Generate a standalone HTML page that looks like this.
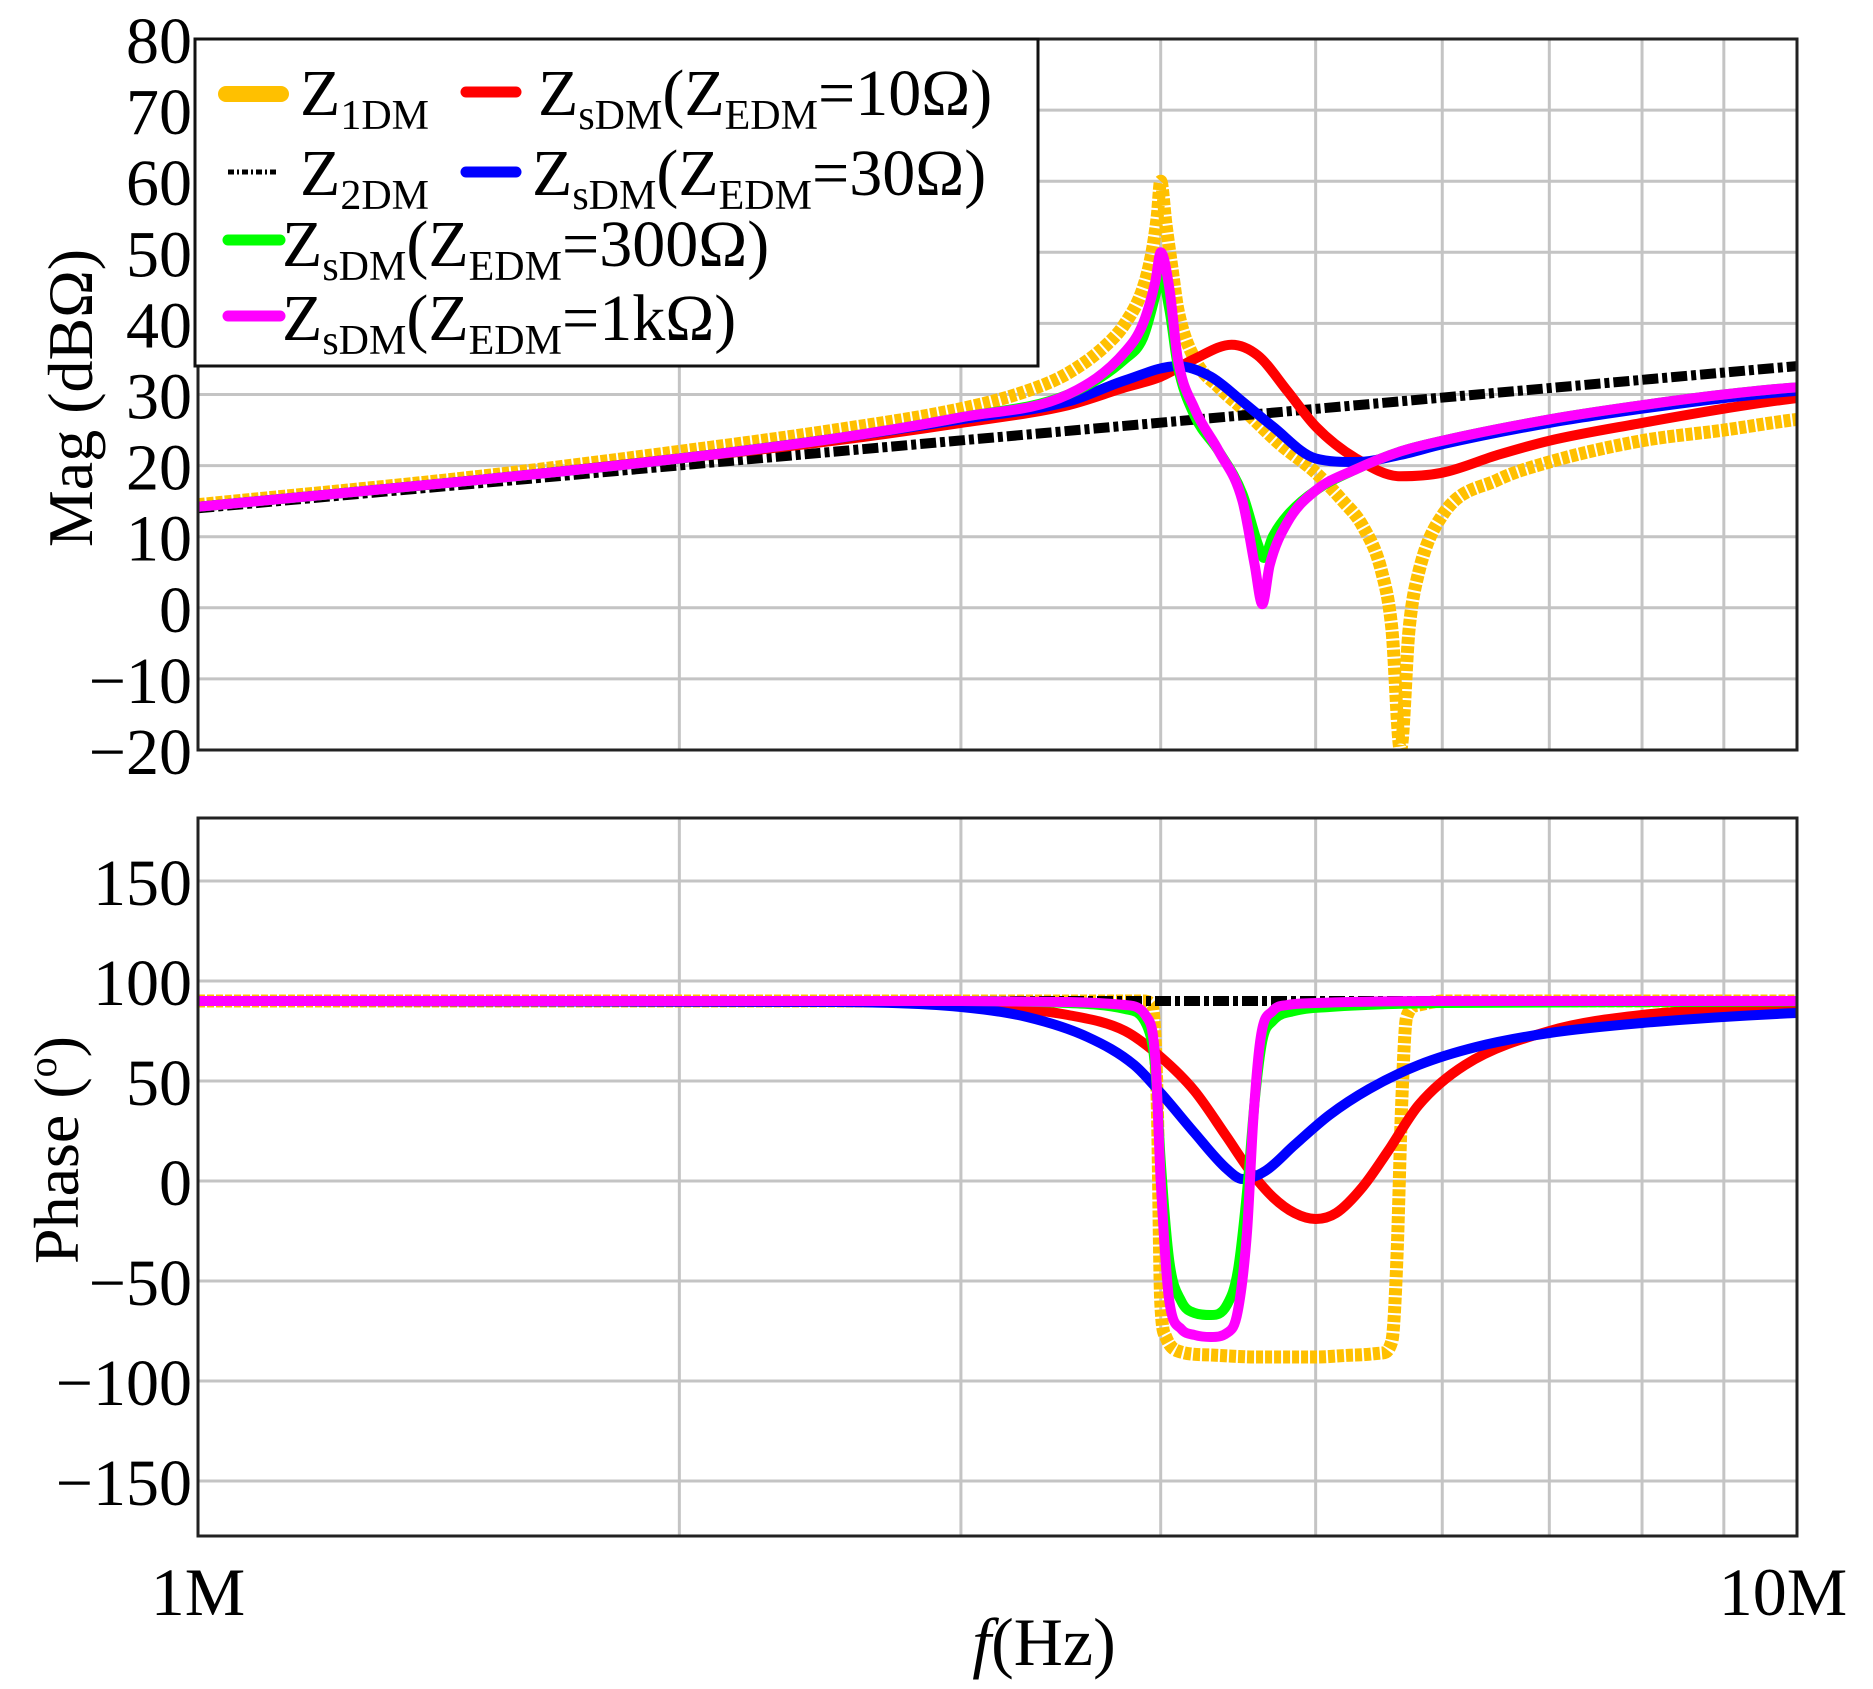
<!DOCTYPE html>
<html><head><meta charset="utf-8">
<style>
html,body{margin:0;padding:0;background:#fff;}
svg{display:block;font-family:"Liberation Serif",serif;}
</style></head>
<body>
<svg id="chart" width="1873" height="1689" viewBox="0 0 1873 1689" xmlns="http://www.w3.org/2000/svg">
<g id="grid"></g>
<g id="series"></g>
<g id="frames"></g>
<g id="ticks"></g>
<text transform="translate(92,398) rotate(-90)" text-anchor="middle" font-size="64">Mag (dBΩ)</text>
<text transform="translate(78,1150) rotate(-90)" text-anchor="middle" font-size="64">Phase (<tspan font-size="40" dy="-22">o</tspan><tspan dy="22">)</tspan></text>
<text x="1044" y="1665" text-anchor="middle" font-size="68"><tspan font-style="italic">f</tspan>(Hz)</text>
<g id="legend">
<rect x="195" y="39" width="843" height="327" fill="#fff" stroke="#111" stroke-width="3"/>
<g>
<line x1="226" y1="94" x2="281" y2="94" stroke="#FFC000" stroke-width="16" stroke-linecap="round"/>
<text x="300" y="115" font-size="66">Z<tspan font-size="42" dy="14">1DM</tspan></text></g>
<g>
<line x1="466" y1="92" x2="516" y2="92" stroke="#FF0000" stroke-width="11" stroke-linecap="round"/>
<text x="538" y="115" font-size="66">Z<tspan font-size="42" dy="14">sDM</tspan><tspan dy="-14">(Z</tspan><tspan font-size="42" dy="14">EDM</tspan><tspan dy="-14">=10Ω)</tspan></text></g>
<g>
<line x1="228" y1="172" x2="278" y2="172" stroke="#000" stroke-width="5" stroke-dasharray="6 3 2 3"/>
<text x="300" y="195" font-size="66">Z<tspan font-size="42" dy="14">2DM</tspan></text></g>
<g>
<line x1="466" y1="172" x2="516" y2="172" stroke="#0000FF" stroke-width="11" stroke-linecap="round"/>
<text x="532" y="195" font-size="66">Z<tspan font-size="42" dy="14">sDM</tspan><tspan dy="-14">(Z</tspan><tspan font-size="42" dy="14">EDM</tspan><tspan dy="-14">=30Ω)</tspan></text></g>
<g>
<line x1="228" y1="240" x2="280" y2="240" stroke="#00FF00" stroke-width="11" stroke-linecap="round"/>
<text x="282" y="266" font-size="66">Z<tspan font-size="42" dy="14">sDM</tspan><tspan dy="-14">(Z</tspan><tspan font-size="42" dy="14">EDM</tspan><tspan dy="-14">=300Ω)</tspan></text></g>
<g>
<line x1="228" y1="316" x2="280" y2="316" stroke="#FF00FF" stroke-width="11" stroke-linecap="round"/>
<text x="282" y="340" font-size="66">Z<tspan font-size="42" dy="14">sDM</tspan><tspan dy="-14">(Z</tspan><tspan font-size="42" dy="14">EDM</tspan><tspan dy="-14">=1kΩ)</tspan></text></g>
</g>
</svg>
<script>
// ---- data ----
const magTicks = [80,70,60,50,40,30,20,10,0,-10,-20];
const phaseTicks = [150,100,50,0,-50,-100,-150];
const xGridFreqs = [2,3,4,5,6,7,8,9];
const xTickLabels = ["1M","10M"];

const z2Freq = [1,10];
const z2Mag = [14,34];
const z2Phase = [90,90];

const z1Freq = [1,1.5,2,2.5,3,3.3,3.5,3.7,3.8,3.9,3.95,3.98,4.0,4.03,4.07,4.1,4.2,4.35,4.5,4.75,5,5.2,5.35,5.5,5.58,5.65,5.72,5.8,6,6.5,7,8,9,10,11.2];
const z1Mag  = [14.5,18.5,22,25,28,30.5,33,37,40,45,50,55,60,54,47,42,35,31,28,23,19,15,11.5,5,-3,-20,-3,5,13,18,20.5,23.5,25,26.5,27.5];
const z1PhFreq = [1,3,3.9,3.95,3.98,4.0,4.03,4.1,4.3,4.6,5.0,5.3,5.5,5.58,5.62,5.66,5.7,5.8,6,11.2];
const z1Phase  = [90,90,90,88,40,-60,-78,-85,-87,-88,-88,-87,-86,-80,-40,40,82,88,90,90];

const redFreq = [1,1.5,2,2.5,3,3.5,3.8,4.0,4.2,4.43,4.6,4.8,5.0,5.3,5.65,6,6.5,7,8,9,10,11.2];
const redMag  = [14.2,18,21,23.5,26,28.5,31,32.5,35,37,35.5,30.5,25.5,21,18.5,19,21.5,23.5,26,28,29.5,30.5];
const redPhFreq = [1,2.5,3,3.5,3.8,4.0,4.2,4.4,4.55,4.7,4.85,5.0,5.15,5.35,5.55,5.8,6.2,7,8,10,11.2];
const redPhase  = [90,89.5,88,83,75,62,45,22,5,-8,-16,-19,-16,-3,15,38,58,75,83,87,88];

const blueFreq = [1,1.5,2,2.5,3,3.5,3.8,4.1,4.3,4.5,4.7,5.0,5.3,5.65,6,7,8,9,10,11.2];
const blueMag  = [14.2,18,21,23.8,26.5,29,32,34,32.5,29,25.5,21,20.5,21.5,23,26,28,29.5,30.5,31];
const bluePhFreq = [1,2.5,3,3.3,3.6,3.85,4.0,4.2,4.4,4.5,4.65,4.85,5.1,5.4,5.8,6.3,7,8,10,11.2];
const bluePhase  = [90,89.5,87,82,72,58,44,24,6,1,5,18,33,46,58,67,74,79,84,85];

const greenFreq = [1,1.5,2,2.5,3,3.5,3.8,3.9,3.97,4.0,4.05,4.1,4.2,4.35,4.5,4.6,4.64,4.7,4.8,5,5.3,5.65,6,7,8,9,10,11.2];
const greenMag  = [14.2,18,21,23.8,26.8,30,35,38,44,47,42,34,27,22,16,9,7,10,13,16.5,19.5,22,23.5,26.5,28.5,30,31,31.5];
const greenPhFreq = [1,3,3.5,3.8,3.92,3.97,4.0,4.05,4.12,4.2,4.3,4.4,4.47,4.53,4.58,4.63,4.7,4.85,5.1,6,11.2];
const greenPhase  = [90,90,89,86,78,55,10,-40,-60,-66,-67,-62,-45,-5,40,70,80,85,87,89,90];

const magentaFreq = [1,1.5,2,2.5,3,3.5,3.8,3.9,3.97,4.0,4.05,4.1,4.2,4.35,4.5,4.58,4.63,4.68,4.8,5,5.3,5.65,6,7,8,9,10,11.2];
const magentaMag  = [14.2,18,21,23.8,26.8,30,36,40,46,50,45,35,28,22,15,6,0.5,6,12,16.5,19.5,22,23.5,26.5,28.5,30,31,31.5];
const magentaPhFreq = [1,3,3.5,3.8,3.92,3.97,4.0,4.05,4.12,4.2,4.3,4.4,4.47,4.53,4.57,4.62,4.7,4.8,5,6,11.2];
const magentaPhase  = [90,90,89.5,88,82,60,0,-60,-74,-77,-78,-76,-65,-25,30,72,85,88,89,90,90];

// ---- layout ----
const XL=198, XR=1797, DEC=1599;
const MT=39, MB=750, PT=818, PB=1536;
function xs(fMHz){ return XL + Math.log10(fMHz)*DEC; }
function ymag(v){ return MT + (80-v)*(MB-MT)/100; }
function yph(v){ return 1481 - (v+150)*(1481-881)/300; }
const NS="http://www.w3.org/2000/svg";
function mk(tag, attrs, parent){
  const e=document.createElementNS(NS,tag);
  for(const k in attrs) e.setAttribute(k,attrs[k]);
  parent.appendChild(e); return e;
}
const grid=document.getElementById('grid');
const series=document.getElementById('series');
const frames=document.getElementById('frames');
const ticks=document.getElementById('ticks');

xGridFreqs.forEach(f=>{
  const x=xs(f);
  [[MT,MB],[PT,PB]].forEach(([a,b])=>{
    const l=mk('line',{x1:x,x2:x,y1:a,y2:b,stroke:'#c4c4c4','stroke-width':3},grid);
    
    
  });
});
magTicks.forEach(v=>{
  const y=ymag(v);
  const l=mk('line',{x1:XL,x2:XR,y1:y,y2:y,stroke:'#c4c4c4','stroke-width':3},grid);
  
  
  const t=mk('text',{x:192,y:y+24,'text-anchor':'end','font-size':66},ticks);
  t.textContent = v<0 ? '\u2212'+Math.abs(v) : String(v);
  
  
});
phaseTicks.forEach(v=>{
  const y=yph(v);
  const l=mk('line',{x1:XL,x2:XR,y1:y,y2:y,stroke:'#c4c4c4','stroke-width':3},grid);
  
  
  const t=mk('text',{x:192,y:y+24,'text-anchor':'end','font-size':66},ticks);
  t.textContent = v<0 ? '\u2212'+Math.abs(v) : String(v);
  
  
});
[[1,xTickLabels[0],0],[10,xTickLabels[1],-14]].forEach(([f,s,off])=>{
  const t=mk('text',{x:xs(f)+off,y:1615,'text-anchor':'middle','font-size':68},ticks);
  t.textContent=s;
  
  
});

const clip=mk('clipPath',{id:'cm'},series); mk('rect',{x:XL,y:MT-20,width:XR-XL,height:MB-MT+20},clip);
const clip2=mk('clipPath',{id:'cp'},series); mk('rect',{x:XL,y:PT,width:XR-XL,height:PB-PT},clip2);
// monotone cubic path
function pathFor(X,Y){
  const n=X.length; if(n<3) return 'M'+X[0]+','+Y[0]+' L'+X[1]+','+Y[1];
  const d=[],m=new Array(n);
  for(let i=0;i<n-1;i++) d.push((Y[i+1]-Y[i])/(X[i+1]-X[i]));
  m[0]=d[0]; m[n-1]=d[n-2];
  for(let i=1;i<n-1;i++){ m[i]=(d[i-1]*d[i]<=0)?0:(d[i-1]+d[i])/2; }
  for(let i=0;i<n-1;i++){
    if(d[i]===0){m[i]=0;m[i+1]=0;continue;}
    const a=m[i]/d[i],b=m[i+1]/d[i],s=a*a+b*b;
    if(s>9){const t=3/Math.sqrt(s);m[i]=t*a*d[i];m[i+1]=t*b*d[i];}
  }
  let p='M'+X[0].toFixed(1)+','+Y[0].toFixed(1);
  for(let i=0;i<n-1;i++){
    const h=(X[i+1]-X[i])/3;
    p+=' C'+(X[i]+h).toFixed(1)+','+(Y[i]+m[i]*h).toFixed(1)+' '+(X[i+1]-h).toFixed(1)+','+(Y[i+1]-m[i+1]*h).toFixed(1)+' '+X[i+1].toFixed(1)+','+Y[i+1].toFixed(1);
  }
  return p;
}
function draw(fr, vals, yf, style, name, cid){
  const d=pathFor(fr.map(xs), vals.map(yf));
  const p=mk('path',Object.assign({d:d,fill:'none','stroke-linejoin':'round','clip-path':'url(#'+cid+')'},style),series);
  
  
}
const sOr={stroke:'#FFC000','stroke-width':13,'stroke-dasharray':'7 2'};
const sBk={stroke:'#000','stroke-width':10,'stroke-dasharray':'16 4 5 4'};
const sR={stroke:'#FF0000','stroke-width':10};
const sB={stroke:'#0000FF','stroke-width':10};
const sG={stroke:'#00FF00','stroke-width':10};
const sM={stroke:'#FF00FF','stroke-width':10};
draw(z1Freq,z1Mag,ymag,sOr,'z1dm-mag-line','cm');
draw(z2Freq,z2Mag,ymag,sBk,'z2dm-mag-line','cm');
draw(redFreq,redMag,ymag,sR,'zsdm-10-mag-line','cm');
draw(blueFreq,blueMag,ymag,sB,'zsdm-30-mag-line','cm');
draw(greenFreq,greenMag,ymag,sG,'zsdm-300-mag-line','cm');
draw(magentaFreq,magentaMag,ymag,sM,'zsdm-1k-mag-line','cm');
draw(z1PhFreq,z1Phase,yph,sOr,'z1dm-phase-line','cp');
draw(z2Freq,z2Phase,yph,sBk,'z2dm-phase-line','cp');
draw(redPhFreq,redPhase,yph,sR,'zsdm-10-phase-line','cp');
draw(bluePhFreq,bluePhase,yph,sB,'zsdm-30-phase-line','cp');
draw(greenPhFreq,greenPhase,yph,sG,'zsdm-300-phase-line','cp');
draw(magentaPhFreq,magentaPhase,yph,sM,'zsdm-1k-phase-line','cp');

[[MT,MB,'mag-plot-frame'],[PT,PB,'phase-plot-frame']].forEach(([a,b,n])=>{
  const r=mk('rect',{x:XL,y:a,width:XR-XL,height:b-a,fill:'none',stroke:'#222','stroke-width':3},frames);
  
  
});
document.getElementById('chart').appendChild(document.getElementById('legend'));
</script>
</body></html>
